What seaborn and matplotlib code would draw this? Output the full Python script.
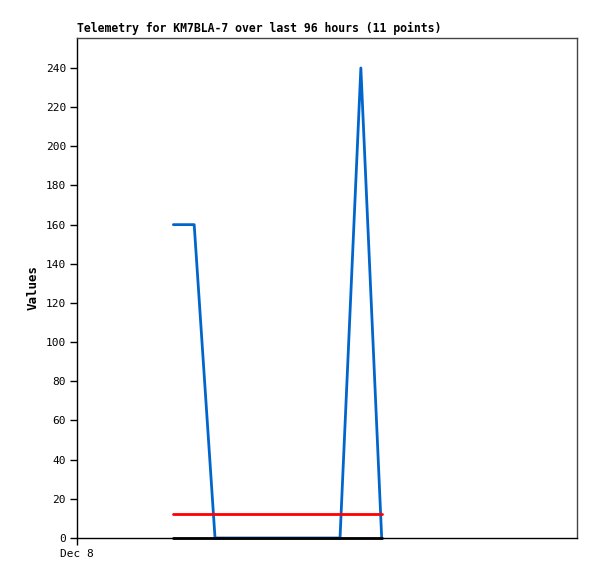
import numpy as np
import pandas as pd
import matplotlib
matplotlib.use("Agg")
import matplotlib.pyplot as plt
import seaborn as sns

# hours after Dec 8 00:00, one reading every 4 hours
hours = [18.5, 22.5, 26.5, 30.5, 34.5, 38.5, 42.5, 46.5, 50.5, 54.5, 58.5]
blue_vals = [160, 160, 0, 0, 0, 0, 0, 0, 0, 240, 0]
red_vals = [12, 12, 12, 12, 12, 12, 12, 12, 12, 12, 12]
black_vals = [0, 0, 0, 0, 0, 0, 0, 0, 0, 0, 0]
tick_pos = [0]
tick_labels = ["Dec 8"]

df = pd.DataFrame({"hours": hours, "blue": blue_vals, "red": red_vals, "black": black_vals})

sns.set_style("white")
plt.rcParams['font.family'] = ['DejaVu Sans Mono']
plt.rcParams['text.color'] = 'black'
plt.rcParams['axes.labelcolor'] = 'black'

fig = plt.figure(figsize=(5.97, 5.79), dpi=100)
ax = fig.add_axes([77 / 597, 1 - 538 / 579, 500 / 597, 500 / 579])

# blue first, then red, black on top
sns.lineplot(data=df, x="hours", y="blue", color="#0066cc", linewidth=2, ax=ax)
sns.lineplot(data=df, x="hours", y="red", color="#ff0000", linewidth=2, ax=ax)
sns.lineplot(data=df, x="hours", y="black", color="black", linewidth=2, ax=ax)
for ln in ax.lines:
    ln.set_clip_on(False)

ax.set_xlim(0, 96)
ax.set_ylim(0, 255.3)
ax.set_yticks(range(0, 241, 20))
ax.set_xticks(tick_pos)
ax.set_xticklabels(tick_labels)
ax.tick_params(axis="both", bottom=True, left=True, labelsize=8, length=5, width=1,
               direction="out", color="black", labelcolor="black", pad=3)
ax.set_xlabel("")
ax.set_ylabel("Values", fontsize=9, fontweight="bold", color="black")
ax.set_title("Telemetry for KM7BLA-7 over last 96 hours (11 points)", fontsize=8.3,
             fontweight="bold", loc="left", pad=4, color="black")

for side in ["left", "bottom"]:
    ax.spines[side].set_color("black")
for side in ["top", "right"]:
    ax.spines[side].set_color("#444444")
for s in ax.spines.values():
    s.set_linewidth(1)

fig.savefig("out.png", dpi=100)
